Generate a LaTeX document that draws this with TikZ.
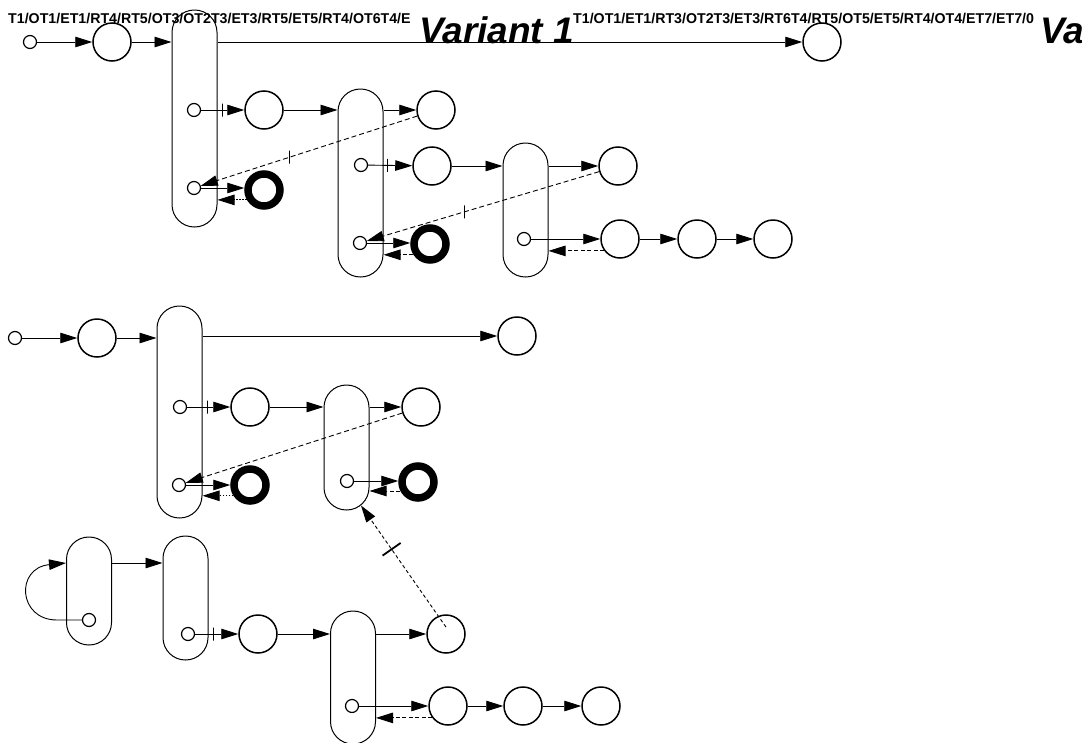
\documentclass[tikz,border=0pt]{standalone}
\usepackage{fontspec}
\setmainfont{Liberation Sans}
\usetikzlibrary{arrows.meta,calc}
\begin{document}
\begin{tikzpicture}[x=1pt,y=-1pt,
  conn/.style={line width=0.9pt,-{Triangle[length=17pt,width=10.5pt]}},
  dashconn/.style={conn,dash pattern=on 5pt off 3pt},
  retdash/.style={conn,dash pattern=on 4pt off 2.5pt},
  retdot/.style={conn,dash pattern=on 1.5pt off 1.5pt},
  state/.style={circle,draw,line width=1.5pt,minimum size=38pt,inner sep=0pt},
  port/.style={circle,draw,line width=1.2pt,minimum size=13pt,inner sep=0pt},
  final/.style={circle,draw,line width=7.5pt,minimum size=32pt,inner sep=0pt},
  pill/.style={draw,line width=1pt,rectangle,rounded corners=22.4pt,minimum width=45pt,inner sep=0pt},
  tickbar/.style={draw,solid,line width=0.9pt,rectangle,minimum width=0pt,minimum height=13pt,inner sep=0pt},
  seqlabel/.style={anchor=base west,inner sep=0pt,font=\fontsize{14.2}{16}\selectfont\bfseries},
  title/.style={anchor=base west,inner sep=0pt,font=\fontsize{37}{40}\selectfont\bfseries\itshape}]
\useasboundingbox (0,0) rectangle (1082,742);
\clip (0,0) rectangle (1082,742);

% ---------- variant 1 ----------
\node[port]  (s0)  at (30,42) {};
\node[state] (c0)  at (112,42) {};
\node[pill,minimum height=217pt] (p1) at (194.5,118.5) {};
\node[state] (cT)  at (822,42) {};
\node[port]  (s1a) at (194,110) {};
\node[state] (c1)  at (264,110) {};
\node[pill,minimum height=188pt] (p2) at (360.5,183) {};
\node[state] (c2)  at (436,110) {};
\node[port]  (s1b) at (194,188) {};
\node[final] (t1)  at (264,190) {};
\node[port]  (s2a) at (361,165) {};
\node[state] (c3)  at (432,166) {};
\node[pill,minimum height=134pt] (p3) at (525.5,210) {};
\node[state] (c4)  at (618,166) {};
\node[port]  (s2b) at (360,243) {};
\node[final] (t2)  at (430,244) {};
\node[port]  (s3)  at (524,239) {};
\node[state] (c5)  at (620,239) {};
\node[state] (c6)  at (697,239) {};
\node[state] (c7)  at (773,239) {};

\draw[conn] (s0) -- (c0);
\draw[conn] (c0) -- (c0 -| p1.west);
\draw[conn] (p1.east |- cT) -- (cT);
\draw[conn] (s1a) -- node[tickbar,pos=0.5]{} (c1);
\draw[conn] (c1) -- (c1 -| p2.west);
\draw[conn] (p2.east |- c2) -- (c2);
\draw[conn] (s1b) -- (s1b -| t1.west);
\draw[retdot] (t1.210) -- (t1.210 -| p1.east);
\draw[dashconn] (c2) -- node[tickbar,pos=0.59]{} (s1b);
\draw[conn] (s2a) -- node[tickbar,pos=0.43]{} (c3);
\draw[conn] (c3) -- (c3 -| p3.west);
\draw[conn] (p3.east |- c4) -- (c4);
\draw[conn] (s2b) -- (s2b -| t2.west);
\draw[retdash] (t2.213) -- (t2.213 -| p2.east);
\draw[dashconn] (c4) -- node[tickbar,pos=0.58]{} (s2b);
\draw[conn] (s3) -- (c5);
\draw[conn] (c5) -- (c6);
\draw[conn] (c6) -- (c7);
\draw[retdash] (c5.217) -- (c5.217 -| p3.east);

% ---------- second diagram ----------
\node[port]  (s4)  at (15,338) {};
\node[state] (c8)  at (97,338) {};
\node[pill,minimum height=212pt] (p4) at (179.5,412) {};
\node[state] (c9)  at (517,336) {};
\node[port]  (s5a) at (180,407) {};
\node[state] (c10) at (250,407) {};
\node[pill,minimum height=125pt] (p5) at (346.5,447.5) {};
\node[state] (c11) at (421,407) {};
\node[port]  (s5b) at (179,485) {};
\node[final] (t3)  at (250,485) {};
\node[port]  (s6)  at (347,481) {};
\node[final] (t4)  at (418,482) {};

\draw[conn] (s4) -- (c8);
\draw[conn] (c8) -- (c8 -| p4.west);
\draw[conn] (p4.east |- c9) -- (c9);
\draw[conn] (s5a) -- node[tickbar,pos=0.47]{} (c10);
\draw[conn] (c10) -- (c10 -| p5.west);
\draw[conn] (p5.east |- c11) -- (c11);
\draw[conn] (s5b) -- (s5b -| t3.west);
\draw[retdot] (t3.213) -- (t3.213 -| p4.east);
\draw[dashconn] (c11) -- (s5b);
\draw[conn] (s6) -- (s6 -| t4.west);
\draw[retdash] (t4.207) -- (t4.207 -| p5.east);

% ---------- third diagram ----------
\node[pill,minimum height=108pt] (p6) at (89,591) {};
\node[port]  (s7)  at (89,620) {};
\node[pill,minimum height=124pt] (p7) at (185.5,598) {};
\node[port]  (s8)  at (188,634) {};
\node[state] (c12) at (258,634) {};
\node[pill,minimum height=133pt] (p8) at (353,677.5) {};
\node[state] (c14) at (446,634) {};
\node[port]  (s9)  at (352,706) {};
\node[state] (c15) at (448,706) {};
\node[state] (c16) at (523,706) {};
\node[state] (c17) at (601,706) {};

\draw[conn] (s7.west) -- (57,620) .. controls (18,620) and (15,568) .. ([yshift=28pt]p6.west);
\draw[conn] ([yshift=28pt]p6.east) -- ([yshift=28pt]p6.east -| p7.west);
\draw[conn] (s8) -- node[tickbar,pos=0.42]{} (c12);
\draw[conn] (c12) -- (c12 -| p8.west);
\draw[conn] (p8.east |- c14) -- (c14);
\draw[conn] (s9) -- (c15);
\draw[conn] (c15) -- (c16);
\draw[conn] (c16) -- (c17);
\draw[retdash] (c15.217) -- (c15.217 -| p8.east);
\draw[conn,dash pattern=on 3.5pt off 2.5pt] ($(c14.center)!0.35!(c14.north)$) --
  node[tickbar,sloped,pos=0.64,minimum height=22pt,line width=1.8pt]{} ([xshift=14.5pt,yshift=5pt]p5.south);

% ---------- labels ----------
\node[seqlabel] (lab1) at (8,23) {T1/OT1/ET1/RT4/RT5/OT3/OT2T3/ET3/RT5/ET5/RT4/OT6T4/E};
\node[title] (var1) at (419,43) {Variant 1};
\node[seqlabel] (lab2) at (573,23) {T1/OT1/ET1/RT3/OT2T3/ET3/RT6T4/RT5/OT5/ET5/RT4/OT4/ET7/ET7/0};
\node[title] (var2) at (1040,43) {Variant 2};
\end{tikzpicture}
\end{document}
